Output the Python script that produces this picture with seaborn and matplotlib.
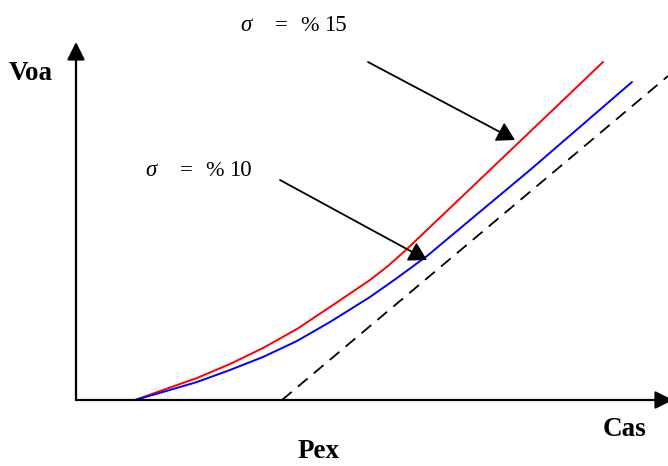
import matplotlib
matplotlib.use("Agg")
import matplotlib.pyplot as plt
import seaborn as sns
import pandas as pd

# Curve samples (x = Cas, y = Voa), origin at the axes corner
red_x = [59, 87, 121, 154, 187, 221, 254, 294, 312, 331, 437, 527]
red_y = [0, 10, 22, 36, 52, 71, 93, 120, 134, 151, 252, 338]
blue_x = [59, 87, 121, 154, 187, 221, 254, 294, 321, 351, 454, 556]
blue_y = [0, 8, 18, 30, 43, 59, 78, 103, 122, 144, 230, 318]
dash_x = [206, 592]
dash_y = [0, 324]

labels = ["% 15", "% 10"]
sigma = "σ"

sns.set_style("white")
plt.rcParams["font.family"] = ["Liberation Serif", "DejaVu Serif"]
plt.rcParams["text.color"] = "black"

fig = plt.figure(figsize=(6.68, 4.66), dpi=100)
ax = fig.add_axes([0, 0, 1, 1])
ax.set_xlim(-76, 592)
ax.set_ylim(-66, 400)
ax.axis("off")

df = pd.concat([
    pd.DataFrame({"x": red_x, "y": red_y, "s": "15"}),
    pd.DataFrame({"x": blue_x, "y": blue_y, "s": "10"}),
])
sns.lineplot(data=df, x="x", y="y", hue="s", palette={"15": "#ff0000", "10": "#0000ff"},
             sort=False, estimator=None, lw=1.4, legend=False, ax=ax)
sns.lineplot(x=dash_x, y=dash_y, color="black", lw=1.3, ax=ax, linestyle=(0, (7, 4.5)))

# axes drawn as arrows
axis_arrow = dict(arrowstyle="-|>,head_length=0.6,head_width=0.3", mutation_scale=18,
                  lw=1.6, color="black", shrinkA=0, shrinkB=0)
ax.annotate("", xy=(0, 358), xytext=(0, 0), arrowprops=axis_arrow)
ax.annotate("", xy=(597, 0), xytext=(0, 0), arrowprops=axis_arrow, annotation_clip=False)

# pointers from the sigma labels to their curves
ptr = dict(arrowstyle="-|>,head_length=0.6,head_width=0.35", mutation_scale=18,
           lw=1.3, color="black", shrinkA=0, shrinkB=0)
ax.annotate("", xy=(439, 260), xytext=(292, 338), arrowprops=ptr)
ax.annotate("", xy=(351, 140), xytext=(204, 220), arrowprops=ptr)

ax.text(-45, 326, "Voa", fontsize=19.5, fontweight="bold", ha="center", va="center")
ax.text(549, -30, "Cas", fontsize=19.5, fontweight="bold", ha="center", va="center")
ax.text(243, -51, "Pex", fontsize=19.5, fontweight="bold", ha="center", va="center")

for sx, sy, lab in [(164, 369, labels[0]), (69, 224, labels[1])]:
    pct, num = lab.split()
    ax.text(sx, sy, sigma, fontsize=16.5, style="italic", ha="left", va="baseline")
    ax.text(sx + 35, sy, "=", fontsize=16.5, ha="left", va="baseline")
    ax.text(sx + 60, sy, pct, fontsize=16, ha="left", va="baseline")
    ax.text(sx + 84, sy, num, fontsize=16.5, ha="left", va="baseline")

fig.savefig("out.png", dpi=100)
